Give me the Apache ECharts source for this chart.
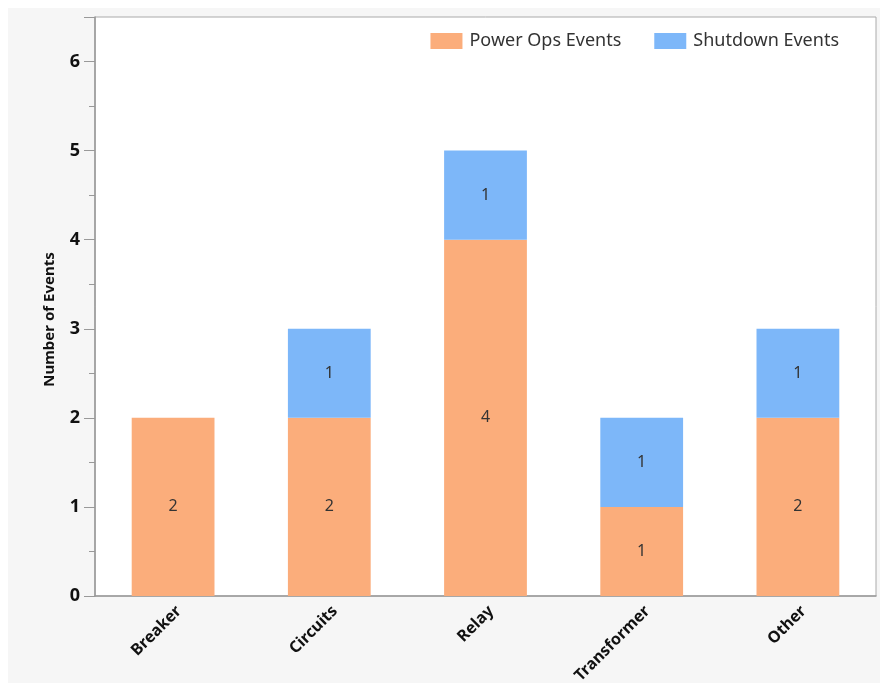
<!DOCTYPE html>
<html><head><meta charset="utf-8">
<script src="https://cdn.jsdelivr.net/npm/echarts@6/dist/echarts.min.js"></script>
<style>html,body{margin:0;padding:0;background:#fff;}#c{width:880px;height:683px;}</style>
</head><body><div id="c"></div>
<script>
const categories = ['Breaker', 'Circuits', 'Relay', 'Transformer', 'Other'];
const powerOps = [2, 2, 4, 1, 2];
const shutdown = [0, 1, 1, 1, 1];
const yTicks = [0, 1, 2, 3, 4, 5, 6];

const FONT = '"Noto Sans", "Open Sans", sans-serif';
const chart = echarts.init(document.getElementById('c'));
const lbl = {
  show: true, position: 'inside', color: '#333', fontSize: 16, fontFamily: FONT,
  formatter: p => (p.value ? String(p.value) : '')
};
chart.setOption({
  animation: false,
  backgroundColor: '#fff',
  graphic: [{ type: 'rect', z: -10, shape: { x: 8, y: 8, width: 872, height: 675 }, style: { fill: '#f6f6f6' } }],
  legend: {
    top: 27, right: 36, itemWidth: 32, itemHeight: 16, itemGap: 33, icon: 'rect',
    textStyle: { fontSize: 18, fontFamily: FONT, color: '#333', padding: [0, 0, 0, 2] },
    data: ['Power Ops Events', 'Shutdown Events']
  },
  grid: {
    left: 95, right: 4, top: 17, bottom: 87, show: true, containLabel: false, outerBoundsMode: 'none',
    backgroundColor: '#fff', borderColor: '#aaa', borderWidth: 1
  },
  xAxis: {
    type: 'category', data: categories,
    axisLine: { lineStyle: { color: '#999', width: 1.5 } },
    axisTick: { show: false },
    axisLabel: { rotate: 45, fontSize: 16, fontWeight: 'bold', color: '#111', fontFamily: FONT,
      margin: 7, verticalAlign: 'top' }
  },
  yAxis: {
    type: 'value', min: 0, max: 6.5, interval: 1,
    name: 'Number of Events', nameLocation: 'middle', nameGap: 38,
    nameTextStyle: { fontSize: 15, fontWeight: 'bold', color: '#111', fontFamily: FONT, padding: [0, 26, 0, 0] },
    axisLine: { show: true, lineStyle: { color: '#999', width: 1.5 } },
    axisTick: { show: true, length: 11, lineStyle: { color: '#999' } },
    minorTick: { show: true, splitNumber: 2, length: 6, lineStyle: { color: '#999' } },
    splitLine: { show: false },
    axisLabel: {
      fontSize: 18, fontWeight: 'bold', color: '#111', fontFamily: FONT, margin: 15,
      formatter: v => (yTicks.includes(v) ? String(v) : '')
    }
  },
  series: [
    { name: 'Power Ops Events', type: 'bar', stack: 's', barWidth: '53%', data: powerOps,
      itemStyle: { color: '#fbad7b' }, label: lbl },
    { name: 'Shutdown Events', type: 'bar', stack: 's', barWidth: '53%', data: shutdown,
      itemStyle: { color: '#7db7f9' }, label: lbl }
  ]
});
</script></body></html>
